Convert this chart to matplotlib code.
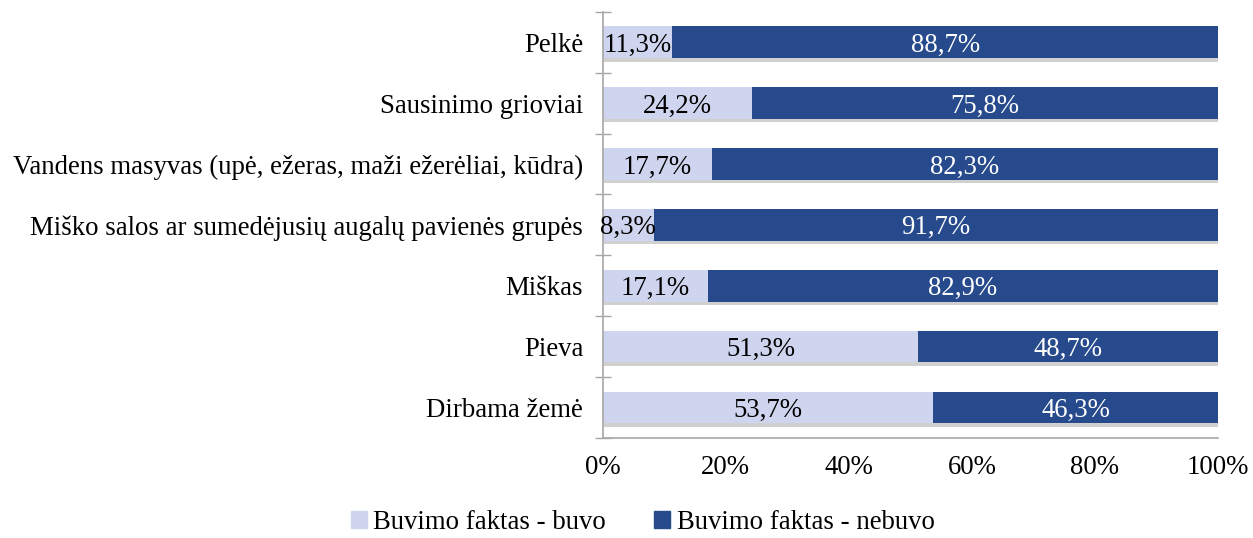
import matplotlib.pyplot as plt
import matplotlib.patheffects as pe
from matplotlib.patches import Patch
import numpy as np

categories = ['Pelkė', 'Sausinimo grioviai',
              'Vandens masyvas (upė, ežeras, maži ežerėliai, kūdra)',
              'Miško salos ar sumedėjusių augalų pavienės grupės',
              'Miškas', 'Pieva', 'Dirbama žemė']
buvo = [11.3, 24.2, 17.7, 8.3, 17.1, 51.3, 53.7]
nebuvo = [88.7, 75.8, 82.3, 91.7, 82.9, 48.7, 46.3]
series_names = ['Buvimo faktas - buvo', 'Buvimo faktas - nebuvo']

plt.rcParams['font.family'] = ['Liberation Serif', 'DejaVu Serif']
plt.rcParams['font.size'] = 19.3

light = '#d0d5ef'
dark = '#274a8c'
axis_grey = '#a6a6a6'

fig = plt.figure(figsize=(12.53, 5.38), dpi=100)
ax = fig.add_axes([0.481, 0.186, 0.491, 0.792])

y = np.arange(len(categories))[::-1]
shadow = [pe.SimplePatchShadow(offset=(1, -2.5), alpha=0.25, shadow_rgbFace='#444444'), pe.Normal()]

ax.barh(y, buvo, height=0.52, color=light, path_effects=shadow)
ax.barh(y, nebuvo, left=buvo, height=0.52, color=dark, path_effects=shadow)

def fmt(v):
    return ('%.1f%%' % v).replace('.', ',')

for yi, a, b in zip(y, buvo, nebuvo):
    ax.text(a / 2, yi, fmt(a), ha='center', va='center_baseline', color='black')
    ax.text(a + b / 2, yi, fmt(b), ha='center', va='center_baseline', color='white')

ax.set_xlim(0, 100)
ax.set_ylim(-0.5, len(categories) - 0.5)
ax.set_xticks(np.arange(0, 101, 20))
ax.set_xticklabels(['%d%%' % v for v in range(0, 101, 20)])
ax.set_yticks(y)
ax.set_yticklabels(categories)
ax.set_yticks(np.arange(-0.5, len(categories), 1.0), minor=True)

ax.tick_params(axis='x', length=0, pad=12)
ax.tick_params(axis='y', which='major', length=0, pad=14)
ax.tick_params(axis='y', which='minor', direction='inout', length=12, color=axis_grey, width=1)

for s in ['top', 'right']:
    ax.spines[s].set_visible(False)
for s in ['left', 'bottom']:
    ax.spines[s].set_color(axis_grey)
    ax.spines[s].set_linewidth(1.2)

handles = [Patch(color=light, label=series_names[0]), Patch(color=dark, label=series_names[1])]
fig.legend(handles=handles, loc='lower center', bbox_to_anchor=(0.513, -0.04), ncol=2, frameon=False,
           handlelength=0.6, handleheight=0.6, handletextpad=0.25, columnspacing=1.8)

fig.savefig('out.png', dpi=100)
